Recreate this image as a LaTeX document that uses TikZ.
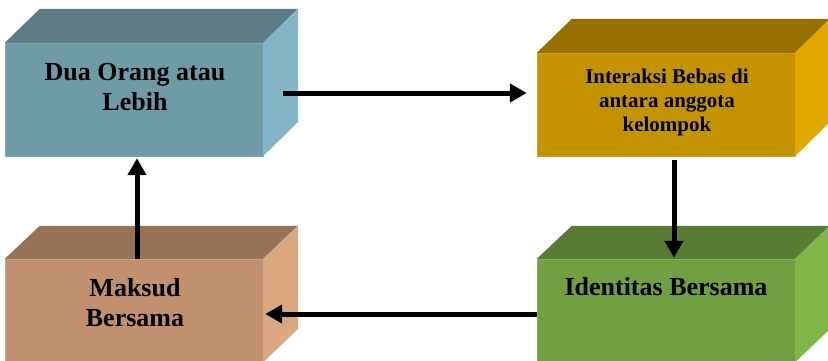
\documentclass[tikz,border=0pt]{standalone}
\usepackage{fontspec}
\setmainfont{Liberation Serif}
\usetikzlibrary{arrows.meta}

\definecolor{duaF}{RGB}{111,155,166}
\definecolor{duaT}{RGB}{91,124,133}
\definecolor{duaS}{RGB}{130,182,198}
\definecolor{intF}{RGB}{196,147,0}
\definecolor{intT}{RGB}{150,113,0}
\definecolor{intS}{RGB}{226,168,0}
\definecolor{makF}{RGB}{193,145,111}
\definecolor{makT}{RGB}{150,115,86}
\definecolor{makS}{RGB}{218,168,128}
\definecolor{ideF}{RGB}{112,160,64}
\definecolor{ideT}{RGB}{88,125,50}
\definecolor{ideS}{RGB}{128,182,72}

\begin{document}
\begin{tikzpicture}[x=1pt, y=-1pt]
\useasboundingbox (0,0) rectangle (828,360);

% front faces
\node[rectangle, fill=duaF, draw=duaF!85!white, minimum width=258pt, minimum height=113pt, inner sep=0] (dua) at (134,99.5) {};
\node[rectangle, fill=intF, draw=intF!85!white, minimum width=258pt, minimum height=103pt, inner sep=0] (interaksi) at (666,104.5) {};
\node[rectangle, fill=makF, draw=makF!85!white, minimum width=258pt, minimum height=103pt, inner sep=0] (maksud) at (134,310.5) {};
\node[rectangle, fill=ideF, draw=ideF!85!white, minimum width=258pt, minimum height=103pt, inner sep=0] (identitas) at (666,310.5) {};

% top and side faces
\fill[duaT] (dua.north west) -- ++(35,-34) -- ++(258,0) -- (dua.north east) -- cycle;
\fill[duaS] (dua.north east) -- ++(35,-34) -- ++(0,113) -- (dua.south east) -- cycle;
\fill[intT] (interaksi.north west) -- ++(35,-34) -- ++(258,0) -- (interaksi.north east) -- cycle;
\fill[intS] (interaksi.north east) -- ++(35,-34) -- ++(0,103) -- (interaksi.south east) -- cycle;
\fill[makT] (maksud.north west) -- ++(35,-33) -- ++(258,0) -- (maksud.north east) -- cycle;
\fill[makS] (maksud.north east) -- ++(35,-33) -- ++(0,103) -- (maksud.south east) -- cycle;
\fill[ideT] (identitas.north west) -- ++(35,-33) -- ++(258,0) -- (identitas.north east) -- cycle;
\fill[ideS] (identitas.north east) -- ++(35,-33) -- ++(0,103) -- (identitas.south east) -- cycle;

% labels
\node[align=center, font=\fontsize{26}{30}\selectfont\bfseries] (duaL) at (135,87) {Dua Orang atau\\Lebih};
\node[align=center, font=\fontsize{21}{24}\selectfont\bfseries] (interaksiL) at (667,102) {Interaksi Bebas di\\antara anggota\\kelompok};
\node[align=center, font=\fontsize{26}{30}\selectfont\bfseries] (maksudL) at (135,303) {Maksud\\Bersama};
\node[align=center, font=\fontsize{26}{30}\selectfont\bfseries] (identitasL) at (666,287) {Identitas Bersama};

% arrows
\draw[line width=5pt, -{Triangle[length=17pt, width=18pt]}] ([xshift=20pt, yshift=6.5pt]dua.east) -- ([xshift=-10pt, yshift=11.5pt]interaksi.west);
\draw[line width=5pt, -{Triangle[length=17pt, width=18pt]}] ([xshift=8pt, yshift=-4pt]interaksi.south) -- ([xshift=8pt, yshift=1pt]identitas.north);
\draw[line width=5pt, -{Triangle[length=17pt, width=18pt]}] ([yshift=-3.5pt]identitas.west) -- ([xshift=2pt, yshift=-3.5pt]maksud.east);
\draw[line width=5pt, -{Triangle[length=17pt, width=18pt]}] ([xshift=3pt]maksud.north) -- ([xshift=3pt, yshift=-2pt]dua.south);
\end{tikzpicture}
\end{document}
